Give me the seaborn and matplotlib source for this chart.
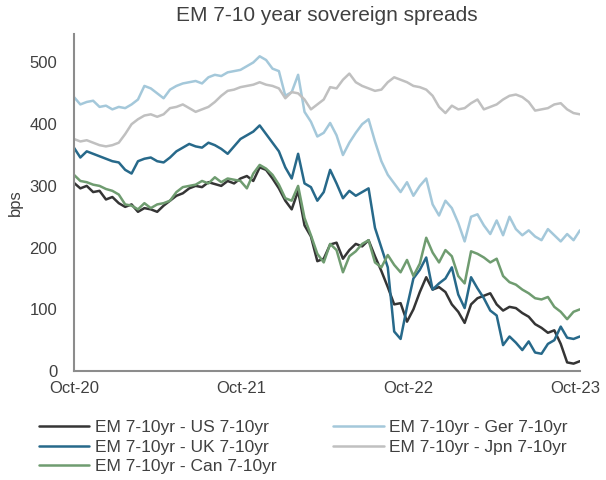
import pandas as pd
import matplotlib.pyplot as plt
import matplotlib.dates as mdates
import seaborn as sns

dates = pd.date_range("2020-10-01", periods=80, freq="14D")

us = [305, 296, 300, 290, 292, 278, 282, 272, 266, 270, 258, 264, 262, 258, 268, 276,
      284, 288, 296, 300, 298, 306, 303, 300, 308, 304, 312, 316, 308, 330, 326, 312,
      296, 276, 262, 292, 236, 218, 178, 182, 205, 208, 182, 196, 206, 202, 212, 186,
      162, 136, 108, 110, 80, 100, 128, 152, 132, 136, 128, 108, 96, 78, 108, 118,
      122, 126, 108, 98, 104, 102, 94, 88, 76, 70, 62, 66, 44, 14, 12, 16]

ger = [444, 432, 436, 438, 428, 430, 424, 428, 426, 432, 440, 462, 458, 450, 442, 456,
       462, 466, 468, 470, 466, 476, 480, 478, 484, 486, 488, 494, 500, 510, 504, 490,
       486, 446, 452, 480, 420, 404, 380, 386, 402, 382, 350, 370, 386, 400, 408, 372,
       340, 318, 304, 290, 306, 284, 300, 312, 270, 252, 276, 264, 240, 210, 250, 254,
       236, 222, 244, 220, 250, 230, 220, 228, 218, 212, 230, 220, 210, 222, 212, 228]

uk = [362, 346, 356, 352, 348, 344, 340, 338, 326, 320, 340, 344, 346, 340, 338, 346,
      356, 362, 368, 364, 362, 370, 366, 360, 352, 364, 376, 382, 388, 398, 384, 370,
      356, 330, 312, 352, 304, 298, 276, 290, 326, 304, 280, 292, 284, 290, 296, 232,
      200, 168, 64, 52, 104, 150, 164, 184, 132, 142, 150, 168, 124, 102, 152, 134,
      118, 98, 90, 42, 56, 46, 34, 48, 30, 28, 44, 50, 72, 54, 52, 56]

jpn = [376, 372, 374, 370, 366, 364, 366, 370, 384, 400, 408, 414, 416, 412, 416, 426,
       428, 432, 426, 420, 424, 428, 436, 446, 454, 456, 460, 462, 464, 468, 464, 462,
       458, 442, 452, 450, 440, 424, 432, 440, 460, 458, 472, 482, 468, 462, 458, 454,
       456, 468, 476, 472, 468, 462, 460, 456, 446, 428, 418, 430, 424, 426, 434, 440,
       424, 428, 432, 440, 446, 448, 444, 436, 422, 424, 426, 432, 434, 424, 418, 416]

can = [318, 308, 306, 302, 300, 295, 292, 286, 270, 268, 262, 272, 264, 270, 272, 276,
       290, 298, 300, 302, 308, 304, 314, 306, 312, 310, 308, 296, 320, 334, 328, 318,
       302, 280, 276, 300, 248, 220, 190, 176, 206, 196, 160, 186, 194, 206, 212, 176,
       168, 188, 172, 160, 180, 154, 174, 216, 192, 176, 196, 186, 154, 142, 194, 190,
       184, 176, 182, 154, 144, 140, 132, 126, 118, 116, 120, 104, 96, 84, 96, 100]

names = ["EM 7-10yr - US 7-10yr", "EM 7-10yr - Ger 7-10yr", "EM 7-10yr - UK 7-10yr",
         "EM 7-10yr - Jpn 7-10yr", "EM 7-10yr - Can 7-10yr"]
colors = ["#353535", "#a4c8da", "#27698a", "#c0c0c0", "#6f9c70"]

df = pd.DataFrame({"date": dates, names[0]: us, names[1]: ger, names[2]: uk,
                   names[3]: jpn, names[4]: can})
long = df.melt(id_vars="date", var_name="series", value_name="bps")

sns.set_theme(style="white")
plt.rcParams["font.family"] = ["Liberation Sans", "DejaVu Sans"]

fig = plt.figure(figsize=(6.06, 4.8), dpi=100)
ax = fig.add_axes([0.122, 0.227, 0.835, 0.702])
sns.lineplot(data=long, x="date", y="bps", hue="series", hue_order=names,
             palette=colors, linewidth=1.8, legend=False, ax=ax)

ax.set_ylim(0, 546)
ax.set_yticks([0, 100, 200, 300, 400, 500])
ax.set_xlim(dates[0], dates[-1])
ax.xaxis.set_major_locator(mdates.MonthLocator(bymonth=10, bymonthday=1))
ax.xaxis.set_major_formatter(mdates.DateFormatter("%b-%y"))
ax.set_xlabel("")
ax.set_ylabel("bps", fontsize=12, color="#404040", labelpad=5)
ax.tick_params(axis="both", length=0, labelsize=12, labelcolor="#404040")
ax.tick_params(axis="y", pad=12)
ax.tick_params(axis="x", pad=7)
for s in ["top", "right"]:
    ax.spines[s].set_visible(False)
for s in ["left", "bottom"]:
    ax.spines[s].set_color("#8c8c8c")
    ax.spines[s].set_linewidth(1.5)
fig.suptitle("EM 7-10 year sovereign spreads", x=0.54, y=0.988, fontsize=15,
             color="#404040")

# legend: column one US, UK, Can; column two Ger, Jpn
lines = dict(zip(names, ax.lines))
order = [names[0], names[2], names[4], names[1], names[3]]
fig.legend([lines[n] for n in order], order, ncol=2, loc="lower left",
           bbox_to_anchor=(0.05, -0.006), frameon=False, fontsize=12.5,
           handlelength=2.9, handletextpad=0.3, columnspacing=3.3,
           labelspacing=0.25, borderpad=0, labelcolor="#404040")

fig.savefig("out.png", dpi=100)
